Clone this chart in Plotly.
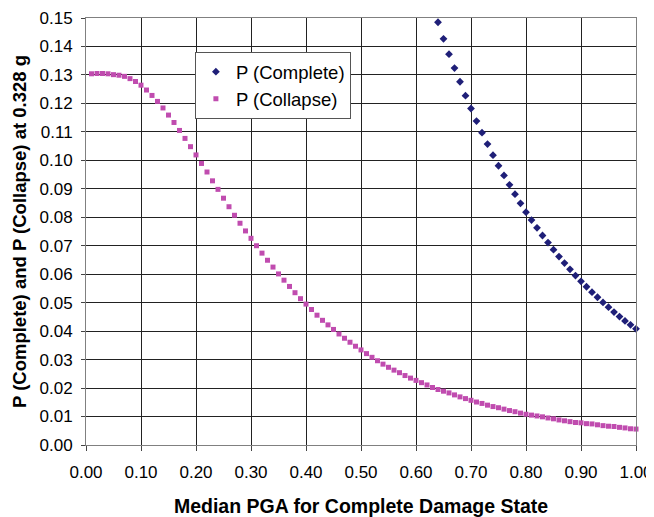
import plotly.graph_objects as go

x_collapse = [round(0.01 * i, 2) for i in range(1, 101)]
p_collapse = [
    0.1304, 0.1305, 0.1305, 0.1304, 0.1301, 0.1299, 0.1295, 0.1287, 0.1277, 0.1264,
    0.1247, 0.1228, 0.1207, 0.1184, 0.1159, 0.1133, 0.1105, 0.1077, 0.1048, 0.1019,
    0.0989, 0.0959, 0.0928, 0.0898, 0.0867, 0.0837, 0.0807, 0.0779, 0.0752, 0.0726,
    0.0700, 0.0674, 0.0649, 0.0625, 0.0601, 0.0579, 0.0557, 0.0535, 0.0514, 0.0495,
    0.0476, 0.0456, 0.0438, 0.0422, 0.0406, 0.0390, 0.0375, 0.0361, 0.0347, 0.0334,
    0.0321, 0.0308, 0.0296, 0.0284, 0.0273, 0.0263, 0.0254, 0.0244, 0.0235, 0.0227,
    0.0219, 0.0211, 0.0202, 0.0195, 0.0189, 0.0183, 0.0176, 0.0169, 0.0163, 0.0157,
    0.0151, 0.0146, 0.0140, 0.0135, 0.0131, 0.0126, 0.0121, 0.0117, 0.0112, 0.0108,
    0.0105, 0.0102, 0.0099, 0.0095, 0.0092, 0.0088, 0.0085, 0.0082, 0.0079, 0.0078,
    0.0075, 0.0074, 0.0071, 0.0068, 0.0066, 0.0065, 0.0062, 0.0060, 0.0057, 0.0056,
]

x_complete = [round(0.01 * i, 2) for i in range(64, 101)]
p_complete = [
    0.1485, 0.1427, 0.1373, 0.1324, 0.1276, 0.1227, 0.1182, 0.1138, 0.1097, 0.1057,
    0.1018, 0.0981, 0.0947, 0.0914, 0.0881, 0.0849, 0.0818, 0.0790, 0.0763, 0.0736,
    0.0711, 0.0686, 0.0662, 0.0639, 0.0617, 0.0595, 0.0575, 0.0556, 0.0537, 0.0519,
    0.0501, 0.0484, 0.0467, 0.0451, 0.0436, 0.0422, 0.0408,
]

x_ticks = [round(0.1 * i, 1) for i in range(11)]
y_ticks = [round(0.01 * i, 2) for i in range(16)]

FONT = "Arial, Liberation Sans, sans-serif"

fig = go.Figure()
fig.add_trace(go.Scatter(
    x=x_complete, y=p_complete, mode="markers", name="P (Complete)",
    marker=dict(symbol="diamond", size=6, color="#1f1f78"),
    cliponaxis=False,
))
fig.add_trace(go.Scatter(
    x=x_collapse, y=p_collapse, mode="markers", name="P (Collapse)",
    marker=dict(symbol="square", size=5, color="#c04caf"),
    cliponaxis=False,
))

fig.update_layout(
    width=646, height=509,
    margin=dict(l=78, r=18, t=10, b=72),
    paper_bgcolor="white", plot_bgcolor="white",
    font=dict(family=FONT, size=17, color="black"),
    showlegend=True,
    legend=dict(
        x=0.198, y=0.92, xanchor="left", yanchor="top",
        bgcolor="white", bordercolor="#555555", borderwidth=1,
        font=dict(family=FONT, size=18.5, color="black"),
        itemsizing="trace", itemwidth=30, tracegroupgap=0,
    ),
    xaxis=dict(
        range=[0, 1.0], tickvals=x_ticks, ticktext=[f"{v:.2f}" for v in x_ticks],
        showgrid=True, gridcolor="#222222", gridwidth=1,
        showline=True, linecolor="#808080", linewidth=1, mirror=True,
        ticks="outside", ticklen=5, tickcolor="#444444",
        zeroline=False, automargin=False, ticklabelstandoff=7,
        tickfont=dict(family=FONT, size=17),
        title=dict(text="<b>Median PGA for Complete Damage State</b>",
                   font=dict(family=FONT, size=19.5), standoff=18),
    ),
    yaxis=dict(
        range=[0, 0.15], tickvals=y_ticks, ticktext=[f"{v:.2f}" for v in y_ticks],
        showgrid=True, gridcolor="#222222", gridwidth=1,
        showline=True, linecolor="#808080", linewidth=1, mirror=True,
        ticks="outside", ticklen=4, tickcolor="#444444",
        zeroline=False, automargin=False, ticklabelstandoff=5,
        tickfont=dict(family=FONT, size=17),
        title=dict(text="<b>P (Complete) and P (Collapse) at 0.328 g</b>",
                   font=dict(family=FONT, size=18.5), standoff=8),
    ),
)

fig.write_html("out.html")
